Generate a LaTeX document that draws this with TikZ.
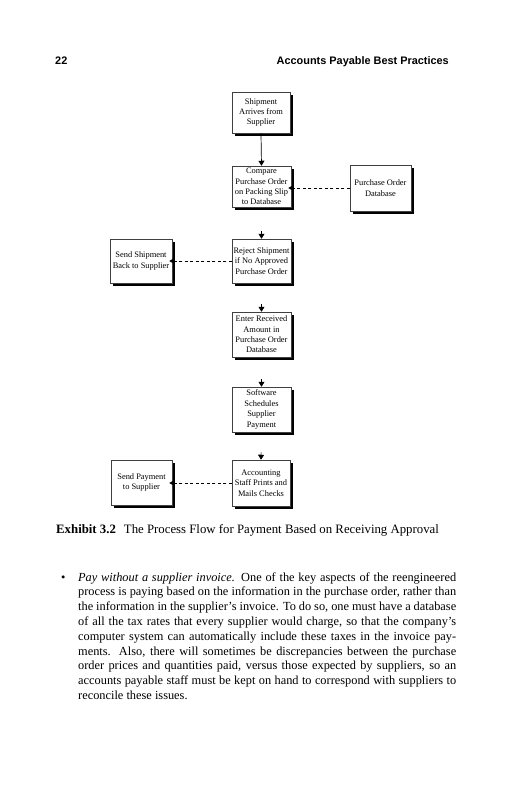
\documentclass[tikz,border=0pt]{standalone}
\usepackage{fontspec}
\setmainfont{Liberation Serif}
\newfontfamily\hdrfont{Liberation Sans}
\usetikzlibrary{shadows,arrows.meta}
\begin{document}
\begin{tikzpicture}[x=1pt,y=-1pt,
  box/.style={draw=black!75, line width=0.5pt, fill=white, align=center, inner xsep=1pt, inner ysep=0.5pt,
     font=\fontsize{8.4}{10.4}\selectfont,
     drop shadow={shadow xshift=3pt, shadow yshift=-3pt, fill=black, opacity=1}},
  arr/.style={-{Triangle[length=5pt,width=6pt]}, line width=0.7pt},
  dasharr/.style={-{Triangle[length=4.5pt,width=5pt]}, dash pattern=on 3pt off 2.5pt, line width=0.5pt, shorten >=-3pt},
  body/.style={anchor=base west, inner sep=0pt, font=\fontsize{12.35}{14.8}\selectfont},
  hdr/.style={inner sep=0pt, font=\hdrfont\bfseries\fontsize{10.9}{13}\selectfont}
]
\useasboundingbox (0,0) rectangle (531,800);
\fill[white] (0,0) rectangle (531,800);

% header
\node[hdr, anchor=base west] (pgnum) at (55,64) {22};
\node[hdr, anchor=base east] (title) at (449,64) {Accounts Payable Best Practices};

% boxes
\node[box, minimum width=58pt, minimum height=41pt] (b1) at (261,112.5) {Shipment\\Arrives from\\Supplier};
\node[box, minimum width=59pt, minimum height=41pt] (b2) at (261.5,186.5) {Compare\\Purchase Order\\on Packing Slip\\to Database};
\node[box, minimum width=61pt, minimum height=46pt] (podb) at (380.5,188) {Purchase Order\\Database};
\node[box, minimum width=59pt, minimum height=44pt] (b3) at (261.5,261) {Reject Shipment\\if No Approved\\Purchase Order};
\node[box, minimum width=62pt, minimum height=44pt] (ss) at (141,261) {Send Shipment\\Back to Supplier};
\node[box, minimum width=59pt, minimum height=45pt] (b4) at (261.5,334.5) {Enter Received\\Amount in\\Purchase Order\\Database};
\node[box, minimum width=59pt, minimum height=45pt] (b5) at (261.5,409.5) {Software\\Schedules\\Supplier\\Payment};
\node[box, minimum width=58pt, minimum height=46pt] (b6) at (261,483) {Accounting\\Staff Prints and\\Mails Checks};
\node[box, minimum width=61pt, minimum height=45pt] (sp) at (141.5,482.5) {Send Payment\\to Supplier};

% connectors
\draw[arr] (b1.south) -- (b2.north);
\draw[arr, shorten <=24pt] (b2.south) -- (b3.north);
\draw[arr, shorten <=21pt] (b3.south) -- (b4.north);
\draw[arr, shorten <=22pt] (b4.south) -- (b5.north);
\draw[arr, shorten <=20pt] (b5.south) -- (b6.north);
\draw[dasharr] (podb.west) -- (podb.west -| b2.east);
\draw[dasharr] (b3.west) -- (b3.west -| ss.east);
\draw[dasharr] (b6.west) -- (b6.west -| sp.east);

% caption
\node[body, anchor=base west, font=\fontsize{12.8}{15}\selectfont] (cap) at (56,533) {\textbf{Exhibit 3.2}\hspace{8pt}The Process Flow for Payment Based on Receiving Approval};

% paragraph
\node[body] (bul) at (61,581) {\textbullet};
\node[body] (p1) at (78,581) {\hbox to 378pt{\textit{Pay without a supplier invoice.} One of the key aspects of the reengineered}};
\node[body] (p2) at (78,595.8) {\hbox to 378pt{process is paying based on the information in the purchase order, rather than}};
\node[body] (p3) at (78,610.6) {\hbox to 378pt{the information in the supplier’s invoice. To do so, one must have a database}};
\node[body] (p4) at (78,625.4) {\hbox to 378pt{of all the tax rates that every supplier would charge, so that the company’s}};
\node[body] (p5) at (78,640.2) {\hbox to 378pt{computer system can automatically include these taxes in the invoice pay-}};
\node[body] (p6) at (78,655) {\hbox to 378pt{ments. Also, there will sometimes be discrepancies between the purchase}};
\node[body] (p7) at (78,669.8) {\hbox to 378pt{order prices and quantities paid, versus those expected by suppliers, so an}};
\node[body] (p8) at (78,684.6) {\hbox to 378pt{accounts payable staff must be kept on hand to correspond with suppliers to}};
\node[body] (p9) at (78,699.4) {reconcile these issues.};
\end{tikzpicture}
\end{document}
